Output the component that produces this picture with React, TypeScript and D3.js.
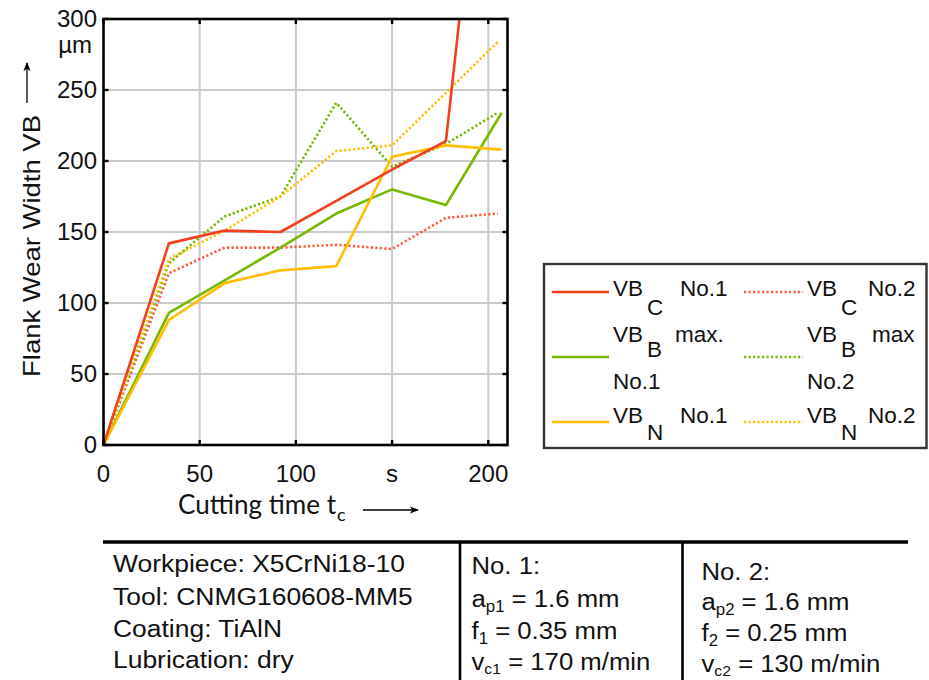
import React from 'react';
import * as d3 from 'd3';

// Measurement times (s) for the two parameter sets
const timesNo1 = [0, 34, 63, 92, 121, 150, 178, 207];
const timesNo2 = [0, 34, 63, 92, 121, 150, 178, 205];

// Flank wear widths (µm)
const vbcNo1 = [0, 142, 151, 150, 172, 194, 214, 570];
const vbcNo2 = [0, 121, 139, 139, 141, 138, 160, 163];
const vbbNo1 = [0, 93, 116, 139, 163, 180, 169, 234];
const vbbNo2 = [0, 128, 161, 175, 241, 196, 212, 234];
const vbnNo1 = [0, 88, 114, 123, 126, 203, 211, 208];
const vbnNo2 = [0, 131, 151, 175, 207, 211, 248, 284];

const xTicks = [0, 50, 100, 150, 200];
const xTickLabels = ['0', '50', '100', 's', '200'];
const yTicks = [0, 50, 100, 150, 200, 250, 300];

const RED = '#f23f1d';
const RED_DOT = '#ff5a3c';
const GREEN = '#77b800';
const YELLOW = '#ffbe00';

const DOTS = '2.2 2.3';

type Series = { t: number[]; v: number[]; color: string; dotted: boolean };

const series: Series[] = [
  { t: timesNo2, v: vbcNo2, color: RED_DOT, dotted: true },
  { t: timesNo2, v: vbbNo2, color: GREEN, dotted: true },
  { t: timesNo2, v: vbnNo2, color: YELLOW, dotted: true },
  { t: timesNo1, v: vbbNo1, color: GREEN, dotted: false },
  { t: timesNo1, v: vbnNo1, color: YELLOW, dotted: false },
  { t: timesNo1, v: vbcNo1, color: RED, dotted: false },
];

const FONT = '"Liberation Sans", Arial, sans-serif';

const L = 103.5, R = 507.5, T = 19, B = 445;

export default function App() {
  const x = d3.scaleLinear().domain([0, 210]).range([L, R]);
  const y = d3.scaleLinear().domain([0, 300]).range([B, T]);

  const line = (s: Series) =>
    d3
      .line<number>()
      .x((_, i) => x(s.t[i]))
      .y((d) => y(d))(s.v) || '';

  const tick = 5;

  return (
    <svg
      width={929}
      height={680}
      style={{ position: 'absolute', left: 0, top: 0, background: '#fff' }}
      fontFamily={FONT}
    >
      <defs>
        <clipPath id="plotClip">
          <rect x={L} y={T} width={R - L} height={B - T} />
        </clipPath>
        <marker id="arrowHead" viewBox="0 0 10 10" refX="9" refY="5" markerWidth="9" markerHeight="9" orient="auto" markerUnits="userSpaceOnUse">
          <path d="M0,1 L10,5 L0,9 L2.5,5 Z" fill="#000" />
        </marker>
      </defs>

      {/* grid */}
      <g stroke="#cacaca" strokeWidth={2}>
        {xTicks.map((t) => (
          <line key={'gx' + t} x1={x(t)} x2={x(t)} y1={T} y2={B} />
        ))}
        {yTicks.map((t) => (
          <line key={'gy' + t} x1={L} x2={R} y1={y(t)} y2={y(t)} />
        ))}
      </g>

      {/* wear curves */}
      <g clipPath="url(#plotClip)" fill="none" strokeLinejoin="round">
        {series.map((s, i) => (
          <path
            key={i}
            d={line(s)}
            stroke={s.color}
            strokeWidth={2.6}
            strokeDasharray={s.dotted ? DOTS : undefined}
          />
        ))}
      </g>

      {/* axes box and inward ticks */}
      <rect x={L} y={T} width={R - L} height={B - T} fill="none" stroke="#000" strokeWidth={2.6} />
      <g stroke="#000" strokeWidth={2.4}>
        {xTicks.map((t) => (
          <g key={'tx' + t}>
            <line x1={x(t)} x2={x(t)} y1={B} y2={B - tick} />
            <line x1={x(t)} x2={x(t)} y1={T} y2={T + tick} />
          </g>
        ))}
        {yTicks.map((t) => (
          <g key={'ty' + t}>
            <line x1={L} x2={L + tick} y1={y(t)} y2={y(t)} />
            <line x1={R} x2={R - tick} y1={y(t)} y2={y(t)} />
          </g>
        ))}
      </g>

      {/* tick labels */}
      <g fontSize={24} fill="#111">
        {yTicks.map((t) => (
          <text key={'ly' + t} x={97} y={y(t)} dy="0.35em" textAnchor="end">
            {t}
          </text>
        ))}
        {xTicks.map((t, i) => (
          <text key={'lx' + t} x={x(t)} y={481.5} textAnchor="middle">
            {xTickLabels[i]}
          </text>
        ))}
        <text x={92} y={53} textAnchor="end">µm</text>
      </g>

      {/* axis titles */}
      <g fill="#111">
        <text
          transform="translate(40,377) rotate(-90)"
          fontSize={24}
          textLength={262}
          lengthAdjust="spacingAndGlyphs"
        >
          Flank Wear Width VB
        </text>
        <line x1={27} x2={27} y1={103} y2={63} stroke="#000" strokeWidth={1.3} markerEnd="url(#arrowHead)" />

        <text x={178} y={514} fontSize={26} fontFamily="Lato, 'Open Sans', sans-serif" textLength={158} lengthAdjust="spacingAndGlyphs">
          Cutting time t
        </text>
        <text x={337} y={521} fontSize={18} fontFamily="Lato, 'Open Sans', sans-serif">
          c
        </text>
        <line x1={363} x2={418} y1={510} y2={510} stroke="#000" strokeWidth={1.3} markerEnd="url(#arrowHead)" />
      </g>

      {/* legend */}
      <rect x={544} y={264} width={382.5} height={184} fill="#fff" stroke="#333" strokeWidth={2.4} />
      <g strokeWidth={2.6}>
        <line x1={552} x2={609} y1={292} y2={292} stroke={RED} />
        <line x1={552} x2={609} y1={357} y2={357} stroke={GREEN} />
        <line x1={552} x2={609} y1={422} y2={422} stroke={YELLOW} />
        <line x1={744} x2={803} y1={292} y2={292} stroke={RED_DOT} strokeDasharray={DOTS} />
        <line x1={744} x2={803} y1={357} y2={357} stroke={GREEN} strokeDasharray={DOTS} />
        <line x1={744} x2={803} y1={422} y2={422} stroke={YELLOW} strokeDasharray={DOTS} />
      </g>
      <g fontSize={22.5} fill="#111">
        <text x={613} y={296}>VB</text>
        <text x={647} y={315}>C</text>
        <text x={680} y={296}>No.1</text>
        <text x={613} y={342}>VB</text>
        <text x={647} y={357}>B</text>
        <text x={675} y={342}>max.</text>
        <text x={613} y={389}>No.1</text>
        <text x={613} y={423}>VB</text>
        <text x={647} y={440}>N</text>
        <text x={680} y={423}>No.1</text>

        <text x={807} y={296}>VB</text>
        <text x={841} y={315}>C</text>
        <text x={868} y={296}>No.2</text>
        <text x={807} y={342}>VB</text>
        <text x={841} y={357}>B</text>
        <text x={872} y={342}>max</text>
        <text x={807} y={389}>No.2</text>
        <text x={807} y={423}>VB</text>
        <text x={841} y={440}>N</text>
        <text x={868} y={423}>No.2</text>
      </g>

      {/* parameter table */}
      <line x1={103} x2={908} y1={542} y2={542} stroke="#000" strokeWidth={3.5} />
      <line x1={460} x2={460} y1={542} y2={680} stroke="#000" strokeWidth={2.6} />
      <line x1={682.5} x2={682.5} y1={542} y2={680} stroke="#000" strokeWidth={2.6} />
      <g fontSize={24.5} fill="#111">
        <text transform="translate(113,571.5) scale(1.08,1)">Workpiece: X5CrNi18-10</text>
        <text transform="translate(113,605) scale(1.08,1)">Tool: CNMG160608-MM5</text>
        <text transform="translate(113,636.5) scale(1.08,1)">Coating: TiAlN</text>
        <text transform="translate(113,668) scale(1.08,1)">Lubrication: dry</text>

        <text transform="translate(471.5,574) scale(1.05,1)">No. 1:</text>
        <text transform="translate(471.5,606.5) scale(1.05,1)">
          a<tspan fontSize={16} dy={5}>p1</tspan>
          <tspan dy={-5}> = 1.6 mm</tspan>
        </text>
        <text transform="translate(471.5,639) scale(1.05,1)">
          f<tspan fontSize={16} dy={5}>1</tspan>
          <tspan dy={-5}> = 0.35 mm</tspan>
        </text>
        <text transform="translate(471.5,669.5) scale(1.05,1)">
          v<tspan fontSize={15} dy={4}>c1</tspan>
          <tspan dy={-4}> = 170 m/min</tspan>
        </text>

        <text transform="translate(701.5,580) scale(1.05,1)">No. 2:</text>
        <text transform="translate(701.5,609.5) scale(1.05,1)">
          a<tspan fontSize={16} dy={5}>p2</tspan>
          <tspan dy={-5}> = 1.6 mm</tspan>
        </text>
        <text transform="translate(701.5,641) scale(1.05,1)">
          f<tspan fontSize={16} dy={5}>2</tspan>
          <tspan dy={-5}> = 0.25 mm</tspan>
        </text>
        <text transform="translate(701.5,671.5) scale(1.05,1)">
          v<tspan fontSize={15} dy={4}>c2</tspan>
          <tspan dy={-4}> = 130 m/min</tspan>
        </text>
      </g>
    </svg>
  );
}
